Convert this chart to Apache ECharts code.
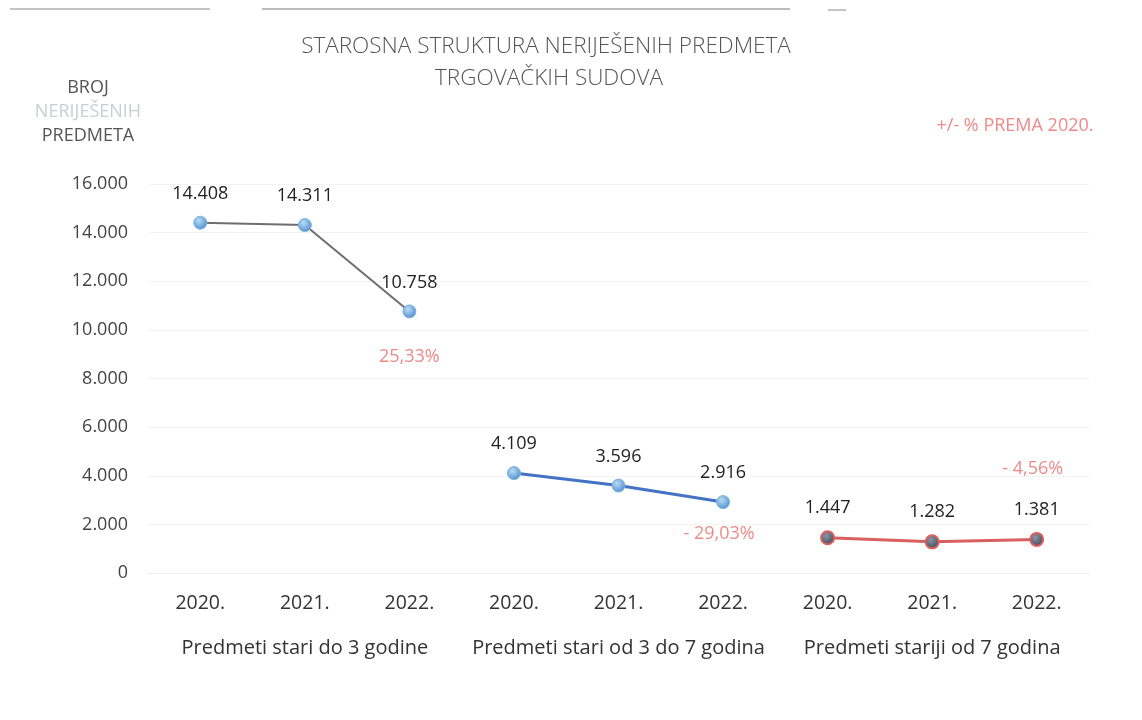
<!DOCTYPE html>
<html>
<head>
<meta charset="utf-8">
<script src="https://cdn.jsdelivr.net/npm/echarts@6/dist/echarts.min.js"></script>
<style>
  html, body { margin: 0; padding: 0; background: #fff; }
  #chart { width: 1142px; height: 720px; }
</style>
</head>
<body>
<div id="chart"></div>
<script>
// podaci
var years = ['2020.', '2021.', '2022.', '2020.', '2021.', '2022.', '2020.', '2021.', '2022.'];
var groups = ['Predmeti stari do 3 godine', 'Predmeti stari od 3 do 7 godina', 'Predmeti stariji od 7 godina'];
var doTri = [14408, 14311, 10758, null, null, null, null, null, null];
var triDoSedam = [null, null, null, 4109, 3596, 2916, null, null, null];
var viseOdSedam = [null, null, null, null, null, null, 1447, 1282, 1381];
var promjene = ['25,33%', '- 29,03%', '- 4,56%'];

var FONT = 'Open Sans';
var fmt = function (v) {
  return String(v).replace(/\B(?=(\d{3})+(?!\d))/g, '.');
};

var blueBall = {
  type: 'radial', x: 0.4, y: 0.35, r: 0.7,
  colorStops: [{ offset: 0, color: '#b9dcf5' }, { offset: 1, color: '#4a8ccc' }]
};
var darkBall = {
  type: 'radial', x: 0.4, y: 0.35, r: 0.7,
  colorStops: [{ offset: 0, color: '#8a95a6' }, { offset: 1, color: '#3c4452' }]
};

function valueLabel() {
  return {
    show: true, position: 'top', distance: 13,
    color: '#222', fontSize: 18, fontFamily: FONT,
    formatter: function (p) { return fmt(p.value); }
  };
}

// oznaka postotka uz tocku 2022.
function pctMark(idx, val, text, offset) {
  return {
    symbol: 'circle', symbolSize: 1,
    itemStyle: { color: 'rgba(0,0,0,0)' },
    label: { show: true, position: 'inside', color: '#ee8a8a', fontSize: 18, fontFamily: FONT, offset: offset, formatter: text },
    data: [{ coord: [idx, val], value: val }]
  };
}

var chart = echarts.init(document.getElementById('chart'));

var option = {
  backgroundColor: '#fff',
  textStyle: { fontFamily: FONT },
  grid: { left: 148, right: 53, top: 184, bottom: 147 },
  graphic: [
    { type: 'text', x: 546, y: 35, style: { text: 'STAROSNA STRUKTURA NERIJEŠENIH PREDMETA', fill: '#555', font: '300 22.5px "Open Sans"', textAlign: 'center' } },
    { type: 'text', x: 549, y: 67, style: { text: 'TRGOVAČKIH SUDOVA', fill: '#555', font: '300 22.5px "Open Sans"', textAlign: 'center' } },
    { type: 'text', x: 88, y: 79, style: { text: 'BROJ', fill: '#555', font: '18px "Open Sans"', textAlign: 'center' } },
    { type: 'text', x: 88, y: 103, style: { text: 'NERIJEŠENIH', fill: '#c9ced4', font: '18px "Open Sans"', textAlign: 'center' } },
    { type: 'text', x: 88, y: 127, style: { text: 'PREDMETA', fill: '#555', font: '18px "Open Sans"', textAlign: 'center' } },
    { type: 'text', x: 1015, y: 117, style: { text: '+/- % PREMA 2020.', fill: '#ee8a8a', font: '18px "Open Sans"', textAlign: 'center' } },
    { type: 'line', shape: { x1: 10, y1: 9, x2: 210, y2: 9 }, style: { stroke: '#888', lineWidth: 1 } },
    { type: 'line', shape: { x1: 262, y1: 9, x2: 790, y2: 9 }, style: { stroke: '#777', lineWidth: 1 } },
    { type: 'line', shape: { x1: 828, y1: 10, x2: 846, y2: 10 }, style: { stroke: '#888', lineWidth: 1 } }
  ],
  xAxis: [
    {
      type: 'category', data: years, boundaryGap: true,
      axisLine: { show: true, lineStyle: { color: '#eeeeee' } },
      axisTick: { show: false },
      axisLabel: { color: '#333', fontSize: 19.5, fontFamily: FONT, margin: 20 }
    },
    {
      type: 'category', data: groups, position: 'bottom', offset: 52,
      axisLine: { show: false }, axisTick: { show: false },
      axisLabel: { color: '#333', fontSize: 20, fontFamily: FONT, margin: 13, interval: 0 }
    }
  ],
  yAxis: {
    type: 'value', min: 0, max: 16000, interval: 2000,
    axisLine: { show: false }, axisTick: { show: false },
    splitLine: { lineStyle: { color: '#f3f3f3' } },
    axisLabel: { color: '#444', fontSize: 18, fontFamily: FONT, margin: 20, formatter: fmt }
  },
  series: [
    {
      name: groups[0], type: 'line', data: doTri,
      lineStyle: { color: '#6e6e6e', width: 2 },
      symbol: 'circle', symbolSize: 13,
      itemStyle: { color: blueBall, borderColor: '#7fb3e0', borderWidth: 1 },
      label: valueLabel(),
      markPoint: pctMark(2, doTri[2], promjene[0], [0, 45])
    },
    {
      name: groups[1], type: 'line', data: triDoSedam,
      lineStyle: { color: '#4472c4', width: 3 },
      symbol: 'circle', symbolSize: 13,
      itemStyle: { color: blueBall, borderColor: '#7fb3e0', borderWidth: 1 },
      label: valueLabel(),
      markPoint: pctMark(5, triDoSedam[5], promjene[1], [-4, 32])
    },
    {
      name: groups[2], type: 'line', data: viseOdSedam,
      lineStyle: { color: '#d9605f', width: 3 },
      symbol: 'circle', symbolSize: 13,
      itemStyle: { color: darkBall, borderColor: '#d9605f', borderWidth: 2 },
      label: valueLabel(),
      markPoint: pctMark(8, viseOdSedam[8], promjene[2], [-4, -71])
    }
  ]
};

chart.setOption(option);
</script>
</body>
</html>
